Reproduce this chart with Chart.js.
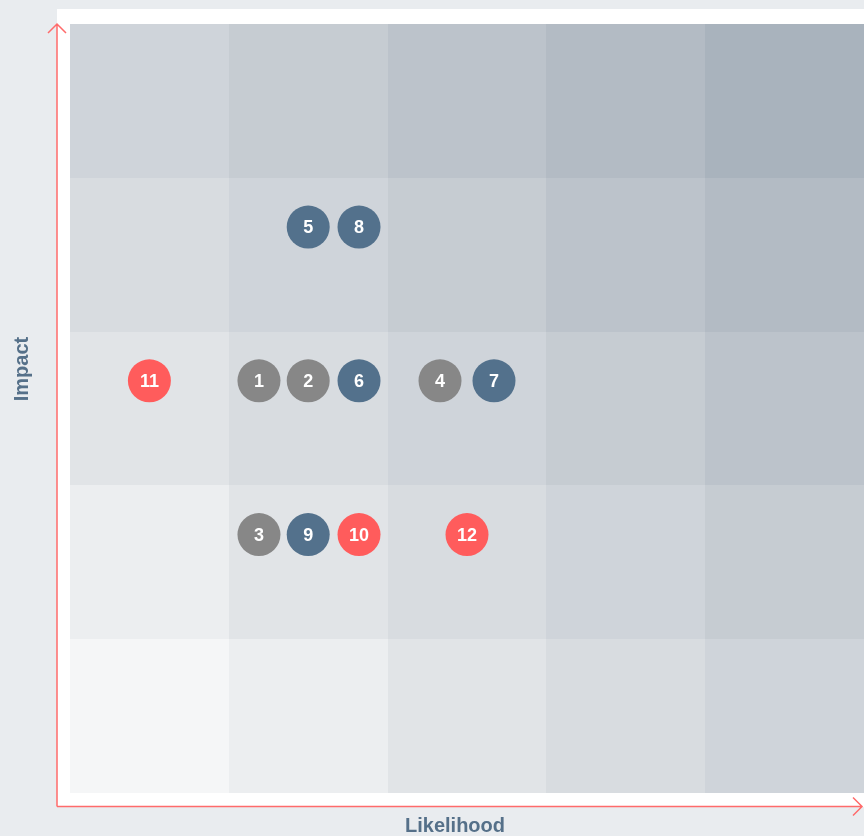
<!DOCTYPE html>
<html>
<head>
<meta charset="utf-8">
<script src="https://cdn.jsdelivr.net/npm/chart.js@4"></script>
<style>
    html, body { margin: 0; padding: 0; background: #e9ecef; }
    #wrap { position: relative; width: 864px; height: 836px; }
    #panel { position: absolute; left: 57px; top: 9px; width: 807px; height: 798px; background: #ffffff; }
    #riskChart { position: absolute; left: 0; top: 0; }
</style>
</head>
<body>
<div id="wrap">
    <div id="panel"></div>
    <canvas id="riskChart" width="864" height="836"></canvas>
</div>
<script>
// risks on the matrix
const riskIds = ["1", "2", "3", "4", "5", "6", "7", "8", "9", "10", "11", "12"];
const likelihood = [1.19, 1.5, 1.19, 2.33, 1.5, 1.82, 2.67, 1.82, 1.5, 1.82, 0.5, 2.5];
const impact = [2.68, 2.68, 1.68, 2.68, 3.68, 2.68, 2.68, 3.68, 1.68, 1.68, 2.68, 1.68];
const riskGroup = ["grey", "grey", "grey", "grey", "blue", "blue", "blue", "blue", "blue", "red", "red", "red"];

// grid of 5 x 5 levels
const levelCount = 5;

const groupColors = { grey: "#878787", blue: "#53718c", red: "#ff5c5c" };
// shade by (column + row), light at bottom-left, dark at top-right
const cellShades = ["#f5f6f7", "#eceef0", "#e1e4e7", "#d8dce0", "#cfd4da", "#c6ccd2", "#bcc3cb", "#b3bbc4", "#a9b3bd"];

const groups = ["grey", "blue", "red"];
const datasets = groups.map(function (g) {
    const pts = [];
    const ids = [];
    riskIds.forEach(function (id, i) {
        if (riskGroup[i] === g) {
            pts.push({ x: likelihood[i], y: impact[i] });
            ids.push(id);
        }
    });
    return {
        label: g,
        data: pts,
        ids: ids,
        backgroundColor: groupColors[g],
        borderWidth: 0,
        pointRadius: 21.5,
        pointHoverRadius: 21.5
    };
});

const matrixPlugin = {
    id: "matrix",
    beforeDatasetsDraw: function (chart) {
        const ctx = chart.ctx;
        const xs = chart.scales.x;
        const ys = chart.scales.y;
        ctx.save();
        for (let c = 0; c < levelCount; c++) {
            for (let r = 0; r < levelCount; r++) {
                const x0 = Math.round(xs.getPixelForValue(c));
                const x1 = Math.round(xs.getPixelForValue(c + 1));
                const y0 = Math.round(ys.getPixelForValue(r + 1));
                const y1 = Math.round(ys.getPixelForValue(r));
                ctx.fillStyle = cellShades[c + r];
                ctx.fillRect(x0, y0, x1 - x0, y1 - y0);
            }
        }

        // red axis arrows
        const area = chart.chartArea;
        const ax = area.left - 13;
        const ay = area.bottom + 13.5;
        ctx.strokeStyle = "#ff6b6b";
        ctx.lineWidth = 1.5;
        ctx.beginPath();
        ctx.moveTo(ax, ay);
        ctx.lineTo(ax, area.top);
        ctx.moveTo(ax - 9, area.top + 9);
        ctx.lineTo(ax, area.top);
        ctx.lineTo(ax + 9, area.top + 9);
        ctx.moveTo(ax, ay);
        ctx.lineTo(chart.width - 2, ay);
        ctx.moveTo(chart.width - 11, ay - 9);
        ctx.lineTo(chart.width - 2, ay);
        ctx.lineTo(chart.width - 11, ay + 9);
        ctx.stroke();

        // axis titles
        ctx.fillStyle = "#557089";
        ctx.font = "bold 20px 'Liberation Sans', Arial, sans-serif";
        ctx.textAlign = "center";
        ctx.textBaseline = "middle";
        ctx.fillText("Likelihood", 455, 826);
        ctx.translate(22, 369);
        ctx.rotate(-Math.PI / 2);
        ctx.fillText("Impact", 0, 0);
        ctx.restore();
    },
    afterDatasetsDraw: function (chart) {
        const ctx = chart.ctx;
        ctx.save();
        ctx.fillStyle = "#ffffff";
        ctx.font = "bold 18px 'Liberation Sans', Arial, sans-serif";
        ctx.textAlign = "center";
        ctx.textBaseline = "middle";
        chart.data.datasets.forEach(function (ds, di) {
            const meta = chart.getDatasetMeta(di);
            meta.data.forEach(function (pt, i) {
                ctx.fillText(ds.ids[i], pt.x, pt.y + 1);
            });
        });
        ctx.restore();
    }
};

new Chart(document.getElementById("riskChart"), {
    type: "scatter",
    data: { datasets: datasets },
    options: {
        responsive: false,
        animation: false,
        layout: { autoPadding: false, padding: { left: 70, top: 24, right: 0, bottom: 43 } },
        plugins: {
            legend: { display: false },
            tooltip: { enabled: false }
        },
        scales: {
            x: { type: "linear", min: 0, max: levelCount, display: false },
            y: { type: "linear", min: 0, max: levelCount, display: false }
        }
    },
    plugins: [matrixPlugin]
});
</script>
</body>
</html>
